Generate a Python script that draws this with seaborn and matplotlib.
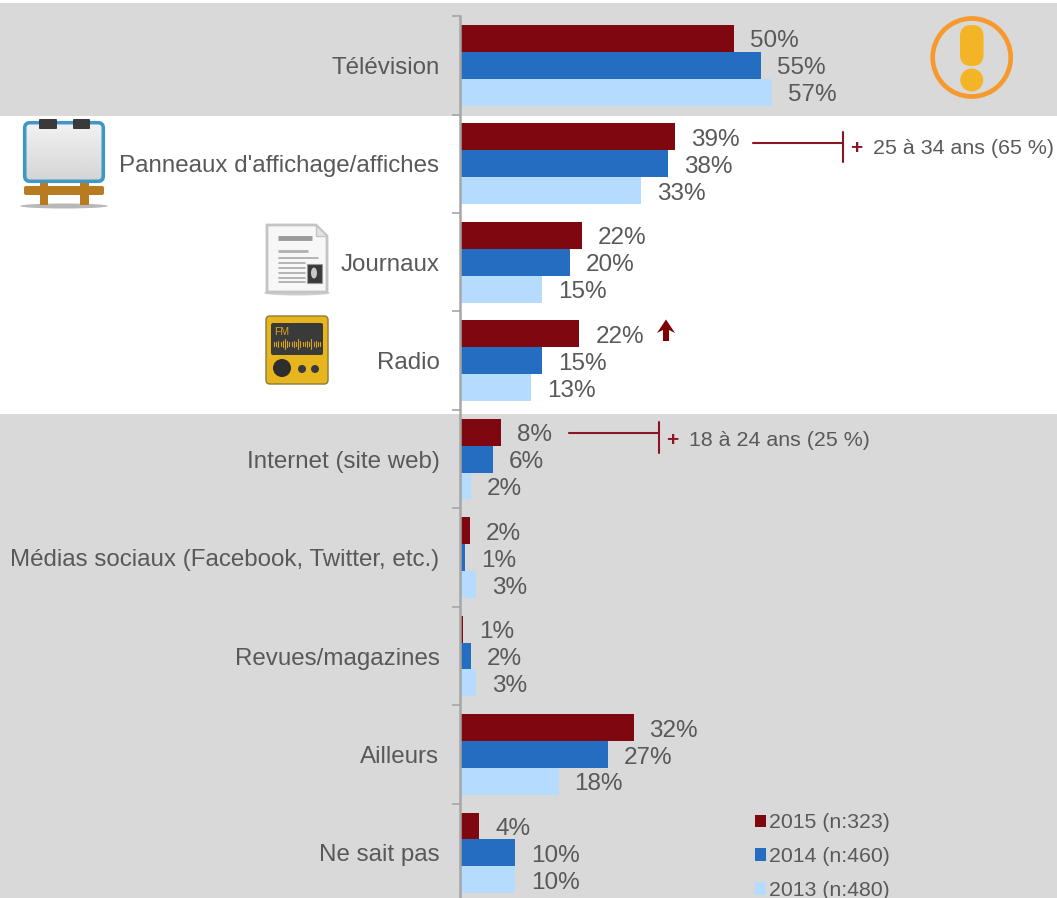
import matplotlib
matplotlib.use('Agg')
import matplotlib.pyplot as plt
from matplotlib.patches import Rectangle, FancyBboxPatch, Circle, Ellipse, Polygon
import pandas as pd
import seaborn as sns
import numpy as np

media = ['Télévision', "Panneaux d'affichage/affiches", 'Journaux', 'Radio', 'Internet (site web)',
         'Médias sociaux (Facebook, Twitter, etc.)', 'Revues/magazines', 'Ailleurs', 'Ne sait pas']
values_2015 = [50, 39.2, 22.2, 21.8, 7.5, 1.8, 0.6, 31.7, 3.5]
values_2014 = [55, 38, 20, 15, 6, 1, 2, 27, 10]
values_2013 = [57, 33, 15, 13, 2, 3, 3, 18, 10]
years = ['2015 (n:323)', '2014 (n:460)', '2013 (n:480)']
year_colors = ['#7F0710', '#246DC0', '#B5DBFE']

W, H = 1057, 898
X0 = 460 # pixel of the zero line
PX_PER_PCT = 5.475
Y0 = 65.3 # pixel of the first group's centre
PX_PER_GROUP = 98.45
GREY = '#D9D9D9'
TXT = '#595959'
RED = '#8A1524'

df = pd.DataFrame({'media': media * 3,
                   'pct': values_2015 + values_2014 + values_2013,
                   'year': [y for y in years for _ in media]})

sns.set_theme(style='white')
plt.rcParams['font.family'] = ['Liberation Sans', 'DejaVu Sans']

fig = plt.figure(figsize=(W / 100, H / 100), dpi=100)

# background layer in pixel coords: bands, icons, side notes
bg = fig.add_axes([0, 0, 1, 1], zorder=0)
bg.set_xlim(0, W)
bg.set_ylim(H, 0)
bg.axis('off')
bg.add_patch(Rectangle((0, 3), W, 112.5, color=GREY, lw=0))
bg.add_patch(Rectangle((0, 414), W, H - 414, color=GREY, lw=0))

# warning icon
bg.add_patch(Circle((971.7, 57.5), 39, fc='none', ec='#F79A2D', lw=3.4))
bg.add_patch(FancyBboxPatch((960 + 11, 25 + 11), 1.5, 19, boxstyle='round,pad=11', fc='#F3B527', ec='none'))
bg.add_patch(Circle((971.7, 80), 11.5, fc='#F3B527', ec='none'))

# easel icon
bg.add_patch(Ellipse((64, 206), 88, 5, fc='#9A9A9A', ec='none', alpha=0.7))
for x0 in (39.5, 80):
    bg.add_patch(Rectangle((x0, 180), 8.5, 25, fc='#B97B22', ec='none'))
bg.add_patch(FancyBboxPatch((26, 188), 76, 5, boxstyle='round,pad=2', fc='#B97B22', ec='none'))
board = FancyBboxPatch((30, 128), 68, 48, boxstyle='round,pad=5', fc='#E6E6E6', ec='#3F97C8', lw=3, zorder=2)
bg.add_patch(board)
grad = bg.imshow(np.linspace(0.95, 0.83, 50).reshape(-1, 1), extent=(24, 104, 182, 122), cmap='gray',
                 vmin=0, vmax=1, aspect='auto', zorder=2.1)
grad.set_clip_path(FancyBboxPatch((30, 128), 68, 48, boxstyle='round,pad=3.5', transform=bg.transData))
bg.set_xlim(0, W)
bg.set_ylim(H, 0)
bg.add_patch(FancyBboxPatch((40, 120), 16, 8, boxstyle='round,pad=1', fc='#3A3A3A', ec='none', zorder=3))
bg.add_patch(FancyBboxPatch((74, 120), 15, 8, boxstyle='round,pad=1', fc='#3A3A3A', ec='none', zorder=3))

# newspaper icon
bg.add_patch(Ellipse((297, 293), 66, 5, fc='#BBBBBB', ec='none', alpha=0.7))
bg.add_patch(Polygon([(267, 225), (316, 225), (327, 236), (327, 292), (267, 292)], fc='#F7F7F7', ec='#C4C4C4', lw=2))
bg.add_patch(Polygon([(316, 225), (316, 236), (327, 236)], fc='#E2E2E2', ec='#C4C4C4', lw=1))
bg.plot([278, 312], [238, 238], color='#9A9A9A', lw=3.5, solid_capstyle='butt')
bg.plot([278, 308], [251, 251], color='#B0B0B0', lw=2, solid_capstyle='butt')
for yy, x1 in zip([258, 263, 268, 273, 278, 282], [318, 305, 305, 305, 305, 305]):
    bg.plot([279, x1], [yy, yy], color='#A8A8A8', lw=1.2)
bg.add_patch(Rectangle((307, 264), 15, 19, fc='#3A3A3A', ec='#999999', lw=0.8))
bg.add_patch(Ellipse((314, 273), 6, 11, fc='#C8C8C8', ec='none'))

# radio icon
bg.add_patch(FancyBboxPatch((270, 320), 54, 60, boxstyle='round,pad=4', fc='#E7B61E', ec='#8D7A3A', lw=1))
bg.add_patch(FancyBboxPatch((273, 325), 48, 28, boxstyle='round,pad=2', fc='#3A3A3A', ec='none'))
bg.text(274, 332, 'FM', fontsize=7.5, color='#D9A520', va='center', ha='left')
for xx, hh in zip(np.arange(274, 322, 2.2), [2, 2, 3, 2, 3, 5, 3, 2, 2, 3, 2, 5, 3, 2, 2, 3, 2, 5, 2, 3, 2, 2]):
    bg.plot([xx, xx], [344 - hh, 344 + hh], color='#D9A520', lw=0.8)
bg.add_patch(Circle((282, 368), 9, fc='#2E2E2E', ec='none'))
bg.add_patch(Circle((302, 369), 4, fc='#3A3A3A', ec='none'))
bg.add_patch(Circle((315, 369), 4, fc='#3A3A3A', ec='none'))

# subgroup notes
bg.plot([753, 842.5], [143, 143], color=RED, lw=1.5)
bg.plot([842.5, 842.5], [132, 162], color=RED, lw=1.5)
bg.text(856.5, 149, '+', color=RED, fontsize=15, fontweight='bold', ha='center', va='center')
bg.text(873, 149, '25 à 34 ans (65 %)', color=TXT, fontsize=15.4, ha='left', va='center')
bg.plot([569, 659], [433, 433], color=RED, lw=1.5)
bg.plot([659, 659], [422, 453], color=RED, lw=1.5)
bg.text(672, 440, '+', color=RED, fontsize=15, fontweight='bold', ha='center', va='center')
bg.text(689, 440, '18 à 24 ans (25 %)', color=TXT, fontsize=15.4, ha='left', va='center')

# up arrow beside the radio label
bg.add_patch(Polygon([(666, 319.5), (675, 333), (669, 330), (669, 341), (663, 341), (663, 330), (657, 333)],
                     fc='#7F0000', ec='none'))

# chart layer, left edge on the bars' zero line
ax = fig.add_axes([X0 / W, 0, (W - X0) / W, 1], zorder=1)
ax.patch.set_visible(False)
sns.barplot(data=df, y='media', x='pct', hue='year', hue_order=years, palette=year_colors,
            orient='h', width=0.82, saturation=1, linewidth=0, edgecolor='none', ax=ax)
ax.set_xlabel('')
ax.set_ylabel('')
ax.xaxis.set_visible(False)
for s in ['top', 'right', 'bottom']:
    ax.spines[s].set_visible(False)
ax.spines['left'].set_color('#A6A6A6')
ax.spines['left'].set_linewidth(1.8)

ax.set_yticks(np.arange(-0.5, 9), minor=True)
ax.tick_params(axis='y', which='minor', length=5.5, width=1.2, color='#A6A6A6', left=True)
ax.tick_params(axis='y', which='major', length=0, pad=14.8, labelsize=17.4, labelcolor=TXT)

# set the limits after the ticks, set_yticks widens them otherwise
y_bottom = (H - Y0) / PX_PER_GROUP
ax.set_xlim(0, (W - X0) / PX_PER_PCT)
ax.set_ylim(y_bottom, -Y0 / PX_PER_GROUP)
ax.spines['left'].set_bounds(-0.5, y_bottom)

for bars in ax.containers:
    labels = ax.bar_label(bars, fmt='%.0f%%', padding=11.5, fontsize=17.5, color=TXT)
    for t in labels:
        t.xyann = (t.xyann[0], t.xyann[1] - 2.2)

leg = ax.legend(loc='lower left', bbox_to_anchor=((754.5 - X0) / (W - X0), -0.002), frameon=False, fontsize=15.3,
                handlelength=0.55, handleheight=0.55, handletextpad=0.12, labelspacing=0.69,
                borderpad=0, borderaxespad=0, title=None)
for t in leg.get_texts():
    t.set_color(TXT)

fig.savefig('out.png', dpi=100)
